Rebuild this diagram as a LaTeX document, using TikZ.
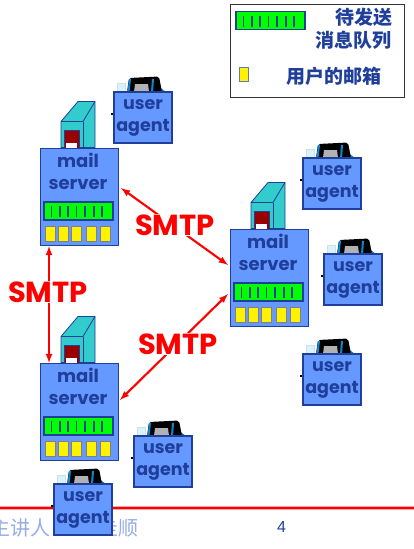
\documentclass[tikz,border=0pt]{standalone}
\usepackage{fontspec}
\newfontfamily\comicfont{Poppins}
\newfontfamily\cjkfont{Noto Sans CJK SC}
\setsansfont{Liberation Sans}
\definecolor{boxblue}{RGB}{102,153,255}
\definecolor{inkblue}{RGB}{31,63,155}
\definecolor{towerteal}{RGB}{51,204,204}
\definecolor{doorred}{RGB}{153,0,0}
\definecolor{footblue}{RGB}{150,172,232}
\tikzset{
  agentbox/.style={draw=inkblue,fill=boxblue,line width=1.4pt,minimum width=58pt,minimum height=51pt,
    inner sep=0pt,align=center,text=inkblue,font=\comicfont\fontsize{17.5}{22}\selectfont\bfseries},
  serverbox/.style={draw=inkblue,fill=boxblue,line width=1.4pt,minimum width=78pt,minimum height=97pt,inner sep=0pt},
  servertext/.style={inner sep=0pt,align=center,text=inkblue,font=\comicfont\fontsize{18}{22}\selectfont\bfseries},
  queuebar/.style={draw=inkblue,fill=green,line width=1.5pt},
  queuetick/.style={draw=inkblue,line width=1.3pt},
  mailslot/.style={draw=gray,fill=yellow,line width=0.8pt},
  smtptext/.style={inner sep=1pt,fill=white,text=red,font=\comicfont\fontsize{29}{31}\selectfont\bfseries},
  smtpline/.style={draw=red,line width=2.1pt,<->,>=latex},
  legendtext/.style={inner sep=0pt,text=inkblue,font=\cjkfont\fontsize{19}{21}\selectfont\bfseries}
}
% green bar with its seven ticks, left top corner at 0,0
\newcommand{\queue}{
  \draw[queuebar] (0,0) rectangle (69,18);
  \foreach \tickx in {7.5,16,24,32.5,41,50,58}
    \draw[queuetick] (\tickx,4) -- (\tickx,15);
}
% box at #2,#3 and the computer behind it
\newcommand{\useragent}[3]{
  \begin{scope}[shift={(#2,#3)}]
    \fill[black] (-3,21) rectangle (0,22.5);
    \fill[towerteal!60!black] (42,-8) -- (48,-3) -- (52,0) -- (42,0) -- cycle;
    \fill[black,rounded corners=2pt] (13,0) -- (15,-14) -- (45,-15.5) -- (48,0) -- cycle;
    \fill[gray!60] (20,0) -- (21,-8) -- (34,-8) -- (35,0) -- cycle;
    \draw[cyan!70!blue,line width=2pt] (14.5,0) -- (16,-13);
    \draw[cyan!70!blue,line width=2pt] (38,0) -- (39,-13);
    \draw[cyan!40!black!20,fill=cyan!15] (3,-9) rectangle (11,0);
    \node[agentbox] (#1) at (29,25.5) {\raisebox{-2.5pt}{user}\\\raisebox{-2.5pt}{agent}};
  \end{scope}
}
% box, tower, queue and mail slots at #2,#3
\newcommand{\mailserver}[3]{
  \begin{scope}[shift={(#2,#3)}]
    \draw[inkblue,fill=towerteal,line width=0.8pt] (21,-26) -- (38,-46) -- (55,-46) -- (55,0) -- (21,0) -- cycle;
    \draw[inkblue,line width=0.8pt] (21,-26) -- (43,-26) -- (55,-46);
    \draw[inkblue,line width=0.8pt] (43,-26) -- (43,0);
    \fill[doorred] (24,-17) rectangle (39,0);
    \draw[inkblue,line width=0.8pt] (24,0) -- (24,-17) -- (39,-17) -- (39,0);
    \fill[white] (26,-5) rectangle (37,0);
    \node[serverbox,anchor=north west] (#1) at (0,0) {};
    \node[servertext,anchor=north] (#1text) at (38,5) {mail\\server};
    \begin{scope}[shift={(4,54.5)}] \queue \end{scope}
    \foreach \slotx in {5,18,31,46,60}
      \draw[mailslot] (\slotx,79) rectangle +(10,15);
  \end{scope}
}

\begin{document}
\begin{tikzpicture}[x=1pt,y=-1pt]
  \useasboundingbox (0,0) rectangle (414,549);
  % legend
  \node[draw=black!80,line width=0.8pt,anchor=north west,minimum width=174pt,minimum height=93pt,inner sep=0pt] (legend) at (229.5,3.5) {};
  \begin{scope}[shift={(236,11.5)}] \queue \end{scope}
  \draw[draw=inkblue!70,fill=yellow,line width=0.8pt] (239,67.5) rectangle (248,81);
  \node[legendtext,anchor=east] (queuetext1) at (393,17) {待发送};
  \node[legendtext,anchor=east] (queuetext2) at (392,40) {消息队列};
  \node[legendtext,anchor=east] (boxtext) at (382,76) {用户的邮箱};
  % servers
  \mailserver{serverA}{40}{147.5}
  \mailserver{serverB}{230}{228.5}
  \mailserver{serverC}{40}{362.5}
  % footer
  \fill[red!35] (0,505.5) rectangle (414,509.5);
  \fill[red] (0,506.5) rectangle (414,508.5);
  \node[anchor=west,inner sep=0pt,text=footblue,font=\cjkfont\fontsize{20}{22}\selectfont] (speaker) at (-10,528) {主讲人：};
  \node[anchor=east,inner sep=0pt,text=footblue,font=\cjkfont\fontsize{20}{22}\selectfont] (speakername) at (139,528) {圭顺};
  \node[inner sep=0pt,text=inkblue,font=\sffamily\fontsize{16}{18}\selectfont] (pagenum) at (281.5,526.5) {4};
  % agents
  \useragent{agentA}{114}{92}
  \useragent{agentB}{303}{158}
  \useragent{agentD}{324}{254}
  \useragent{agentE}{303}{354}
  \useragent{agentF}{134}{436}
  \useragent{agentG}{54}{484}
  % SMTP arrows
  \coordinate (endAB) at (121,188);
  \coordinate (endBA) at (228,265);
  \coordinate (endAC) at (49,246);
  \coordinate (endCA) at (49,363);
  \coordinate (endBC) at (228,294);
  \coordinate (endCB) at (120,400);
  \draw[smtpline] (endAB) -- (endBA);
  \draw[smtpline] (endAC) -- (endCA);
  \draw[smtpline] (endBC) -- (endCB);
  \node[smtptext] (smtpAB) at (175,225) {SMTP};
  \node[smtptext] (smtpAC) at (48,292) {SMTP};
  \node[smtptext] (smtpBC) at (178,344) {SMTP};
\end{tikzpicture}
\end{document}
